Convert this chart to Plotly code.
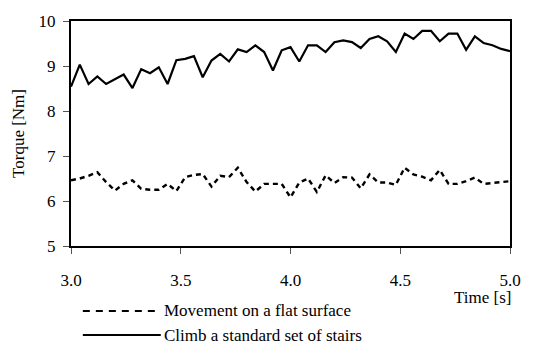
import plotly.graph_objects as go

time_s = [round(3.0 + 0.04 * i, 2) for i in range(51)]

stairs_torque = [8.54, 9.03, 8.60, 8.77, 8.60, 8.71, 8.81, 8.51, 8.93, 8.84,
                 8.97, 8.60, 9.13, 9.16, 9.22, 8.75, 9.12, 9.27, 9.10, 9.37,
                 9.31, 9.46, 9.31, 8.90, 9.35, 9.42, 9.10, 9.46, 9.46, 9.31,
                 9.53, 9.57, 9.53, 9.40, 9.60, 9.66, 9.55, 9.31, 9.72, 9.60,
                 9.78, 9.78, 9.55, 9.72, 9.72, 9.36, 9.66, 9.51, 9.46, 9.38,
                 9.33]

flat_torque = [6.46, 6.50, 6.56, 6.64, 6.42, 6.23, 6.38, 6.46, 6.27, 6.25,
               6.25, 6.38, 6.22, 6.53, 6.58, 6.60, 6.32, 6.56, 6.53, 6.74,
               6.42, 6.21, 6.38, 6.38, 6.38, 6.08, 6.41, 6.50, 6.20, 6.57,
               6.40, 6.53, 6.52, 6.28, 6.59, 6.41, 6.41, 6.36, 6.74, 6.59,
               6.54, 6.46, 6.69, 6.38, 6.38, 6.44, 6.52, 6.38, 6.40, 6.43,
               6.44]

series_names = ["Movement on a flat surface", "Climb a standard set of stairs"]
x_ticks = [3.0, 3.5, 4.0, 4.5, 5.0]
y_ticks = [5, 6, 7, 8, 9, 10]

FONT = "Liberation Serif"
W, H = 533, 351
L, R, T, B = 71, 17, 21, 105
pw, ph = W - L - R, H - T - B

def px(x):
    return (x - L) / pw

def py(y):
    return (H - B - y) / ph

fig = go.Figure()
fig.add_trace(go.Scatter(x=time_s, y=flat_torque, mode="lines", name=series_names[0],
                         line=dict(color="black", width=2.4, dash="5px,4px")))
fig.add_trace(go.Scatter(x=time_s, y=stairs_torque, mode="lines", name=series_names[1],
                         line=dict(color="black", width=2.2)))

# manual legend
leg_y = [311, 335]
dashes = ["7px,6px", "solid"]
for name, yy, d in zip(series_names, leg_y, dashes):
    fig.add_shape(type="line", xref="paper", yref="paper",
                  x0=px(83), x1=px(162), y0=py(yy), y1=py(yy),
                  line=dict(color="black", width=2.2, dash=d))
    fig.add_annotation(text=name, xref="paper", yref="paper", x=px(163), y=py(yy),
                       xanchor="left", yanchor="middle", showarrow=False,
                       font=dict(family=FONT, size=17, color="black"))

fig.add_annotation(text="Time [s]", xref="paper", yref="paper", x=px(519), y=py(297),
                   xanchor="right", yanchor="middle", showarrow=False,
                   font=dict(family=FONT, size=17, color="black"))

fig.update_layout(
    width=W, height=H,
    margin=dict(l=L, r=R, t=T, b=B),
    paper_bgcolor="white", plot_bgcolor="white",
    showlegend=False,
    font=dict(family=FONT, size=17, color="black"),
)
fig.update_xaxes(range=[3.0, 5.0], tickvals=x_ticks, tickformat=".1f",
                 tickfont=dict(family=FONT, size=17, color="black"),
                 showgrid=False, zeroline=False,
                 showline=True, linecolor="black", linewidth=2, mirror=True,
                 ticks="outside", ticklen=6, tickcolor="#555", tickwidth=1,
                 ticklabelstandoff=12)
fig.update_yaxes(range=[5, 10], tickvals=y_ticks,
                 tickfont=dict(family=FONT, size=17, color="black"),
                 showgrid=False, zeroline=False,
                 showline=True, linecolor="black", linewidth=2, mirror=True,
                 ticks="outside", ticklen=6, tickcolor="#555", tickwidth=1,
                 ticklabelstandoff=4,
                 title=dict(text="Torque [Nm]", standoff=10,
                            font=dict(family=FONT, size=17, color="black")))

fig.write_html("out.html", config={"displayModeBar": False},
               post_script="document.body.style.margin='0px';")
